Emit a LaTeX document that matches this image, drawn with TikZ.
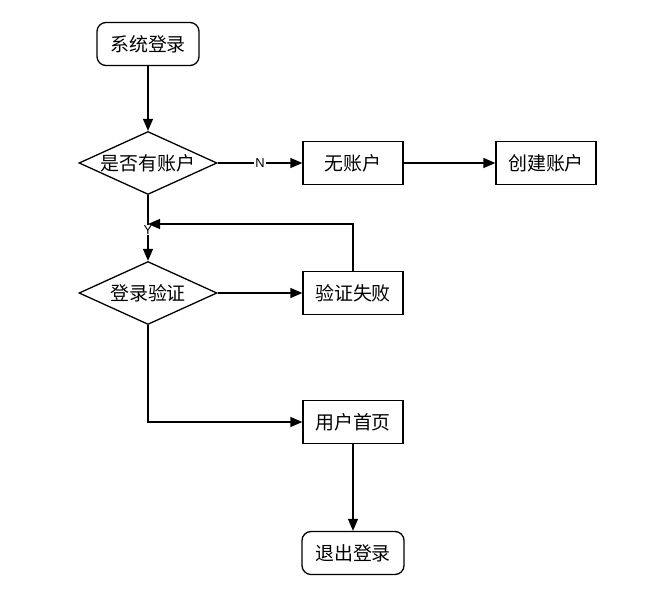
\documentclass[tikz,border=0pt]{standalone}
\usepackage{fontspec}
\newfontfamily\cjk{Noto Sans CJK SC}
\newfontfamily\latinlabel{Liberation Sans}
\usetikzlibrary{shapes.geometric,arrows.meta}

\begin{document}
\begin{tikzpicture}[x=1bp, y=-1bp,
  line width=1.3bp,
  startstop/.style={rectangle, rounded corners=9bp, draw=black, minimum width=102bp, minimum height=43bp, inner sep=0pt, font=\cjk\fontsize{19}{19}\selectfont},
  process/.style={rectangle, draw=black, minimum width=100bp, minimum height=43bp, inner sep=0pt, font=\cjk\fontsize{19}{19}\selectfont},
  decision/.style={diamond, aspect=2.19, draw=black, minimum width=138bp, minimum height=63bp, inner sep=0pt, font=\cjk\fontsize{19}{19}\selectfont},
  branch/.style={fill=white, inner sep=1pt, font=\latinlabel\fontsize{13}{13}\selectfont},
  flow/.style={-{Triangle[length=12bp, width=10bp]}}]
\useasboundingbox (0,0) rectangle (645,597);

% nodes
\node [startstop] (login) at (148,44) {系统登录};
\node [decision] (hasacc) at (148,163) {是否有账户};
\node [process] (noacc) at (353,163) {无账户};
\node [process] (create) at (546,163) {创建账户};
\node [decision] (verify) at (148,293) {登录验证};
\node [process] (fail) at (353,293) {验证失败};
\node [process] (home) at (353,422) {用户首页};
\node [startstop] (logout) at (353,553) {退出登录};
\coordinate (back) at (148,224);

% connectors
\draw [flow] (login) -- (hasacc);
\draw [flow] (hasacc) -- node[branch] (n) {N} (noacc);
\draw [flow] (noacc) -- (create);
\draw [flow] (hasacc) -- node[branch, pos=0.53] (y) {Y} (verify);
\draw [flow] (fail.north) |- (back);
\draw [flow] (verify) -- (fail);
\draw [flow] (verify.south) |- (home.west);
\draw [flow] (home) -- (logout);
\end{tikzpicture}
\end{document}
